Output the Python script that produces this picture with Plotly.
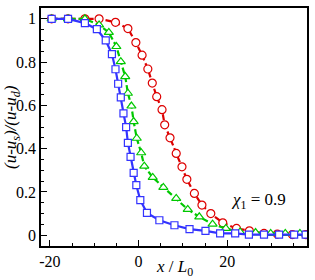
import plotly.graph_objects as go

# Red circles (dashed)
red_x = [-19.6, -15.9, -12.1, -8.9, -5.2, -2.4, -0.6, 0.8, 2.1, 3.1, 4.1, 5.3, 5.9, 7.1,
         8.5, 9.8, 10.9, 12.6, 14.3, 16.3, 19.0, 22.1, 25.0, 28.3, 31.3, 34.7, 37.7]
red_y = [1.0, 1.0, 1.0, 1.0, 0.984, 0.955, 0.89, 0.832, 0.768, 0.703, 0.64, 0.58, 0.51, 0.45,
         0.378, 0.316, 0.258, 0.193, 0.139, 0.10, 0.057, 0.031, 0.02, 0.008, 0.005, 0.003, 0.003]

# Green triangles (dashed)
green_x = [-19.6, -15.9, -12.1, -8.9, -6.7, -5.0, -4.0, -3.0, -2.4, -1.6, -1.1, -0.4, 0.6, 1.3,
           3.2, 5.6, 8.5, 11.1, 13.7, 16.7, 19.7, 22.9, 26.4, 29.8, 33.1, 36.4]
green_y = [1.0, 1.0, 1.0, 0.972, 0.937, 0.872, 0.802, 0.733, 0.656, 0.597, 0.525, 0.448, 0.381,
           0.319, 0.267, 0.221, 0.17, 0.119, 0.085, 0.051, 0.031, 0.015, 0.012, 0.008, 0.008, 0.008]

# Blue squares (solid)
blue_x = [-19.6, -15.9, -12.1, -9.4, -7.4, -6.0, -5.2, -4.6, -4.0, -3.4, -2.8, -2.4, -1.8, -1.1,
          -0.5, 0.4, 1.9, 4.7, 8.1, 11.5, 15.1, 18.4, 21.8, 24.9, 28.3, 31.7, 35.1, 37.7]
blue_y = [1.0, 1.0, 0.98, 0.952, 0.90, 0.837, 0.767, 0.70, 0.637, 0.563, 0.499, 0.427, 0.362,
          0.288, 0.231, 0.162, 0.103, 0.069, 0.046, 0.028, 0.02, 0.008, 0.008, 0.003, 0.003,
          0.003, 0.003, 0.003]

x_ticks = [-20, 0, 20]
x_ticktext = ["-20", "0", "20"]
y_ticks = [0, 0.2, 0.4, 0.6, 0.8, 1]
y_ticktext = ["0", "0.2", "0.4", "0.6", "0.8", "1"]

RED = "#dd0000"
GREEN = "#00c800"
BLUE = "#3333ff"
FONT = "Liberation Serif, Times New Roman, DejaVu Serif, serif"

fig = go.Figure()
fig.add_trace(go.Scatter(x=red_x, y=red_y, mode="lines+markers",
                         line=dict(color=RED, width=2.2, dash="6px,3px"),
                         marker=dict(symbol="circle", size=8, color="white",
                                     line=dict(color=RED, width=1.2))))
fig.add_trace(go.Scatter(x=green_x, y=green_y, mode="lines+markers",
                         line=dict(color=GREEN, width=2.2, dash="6px,3px"),
                         marker=dict(symbol="triangle-up", size=8, color="white",
                                     line=dict(color=GREEN, width=1.2))))
fig.add_trace(go.Scatter(x=blue_x, y=blue_y, mode="lines+markers",
                         line=dict(color=BLUE, width=2.2),
                         marker=dict(symbol="square", size=7, color="white",
                                     line=dict(color=BLUE, width=1.2))))

axis_common = dict(showgrid=False, zeroline=False, showline=True, linecolor="black",
                   linewidth=1.5, mirror=True, ticks="inside", ticklen=6, tickwidth=1,
                   tickcolor="black", automargin=False,
                   tickfont=dict(family=FONT, size=16, color="black"))

fig.update_xaxes(range=[-22, 38], tickvals=x_ticks, ticktext=x_ticktext,
                 minor=dict(dtick=5, tick0=0, ticks="inside", ticklen=3, tickcolor="black"),
                 **axis_common)
fig.update_yaxes(range=[-0.05, 1.05], tickvals=y_ticks, ticktext=y_ticktext,
                 minor=dict(dtick=0.05, tick0=0, ticks="inside", ticklen=3, tickcolor="black"),
                 **axis_common)

fig.add_annotation(x=20.3, y=0.158, xref="x", yref="y", xanchor="left", yanchor="middle",
                   text="<i>χ</i><sub>1</sub> = 0.9", showarrow=False,
                   font=dict(family=FONT, size=17, color="black"))
fig.add_annotation(x=0.5, y=-0.092, xref="paper", yref="paper", xanchor="center",
                   yanchor="middle", text="<i>x</i> / <i>L</i><sub>0</sub>", showarrow=False,
                   font=dict(family=FONT, size=17, color="black"))
fig.add_annotation(x=-0.109, y=0.5, xref="paper", yref="paper", xanchor="center",
                   yanchor="middle", textangle=-90,
                   text="<i>(u-u<sub>s</sub>)/(u-u<sub>d</sub>)</i>", showarrow=False,
                   font=dict(family=FONT, size=17, color="black"))

fig.update_layout(width=315, height=280, showlegend=False, template="none",
                  margin=dict(l=41, r=8, t=8, b=34),
                  plot_bgcolor="white", paper_bgcolor="white")

fig.write_html("out.html", config={"displayModeBar": False},
               post_script="document.body.style.margin='0';document.body.style.padding='0';")
